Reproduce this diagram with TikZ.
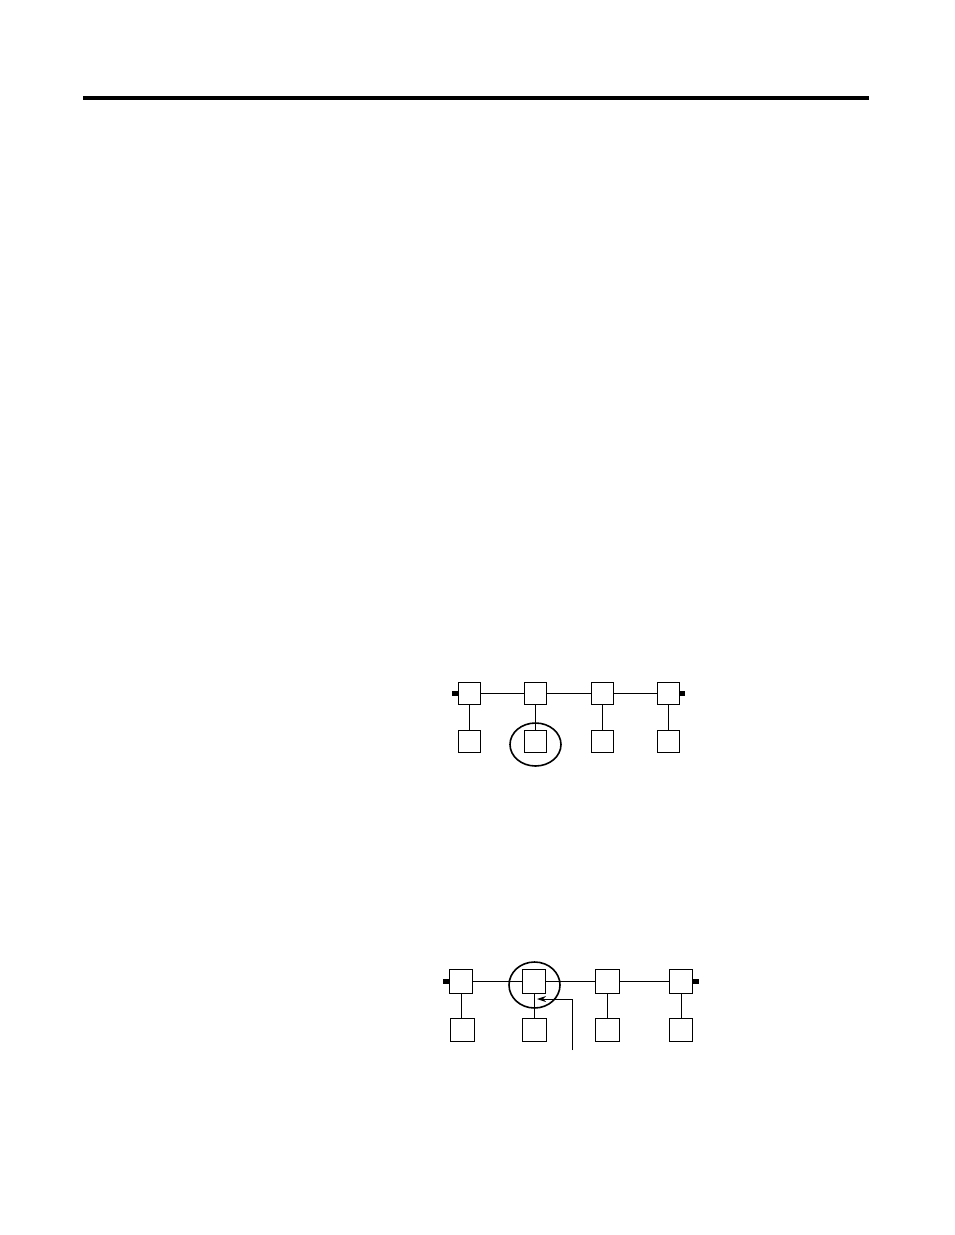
\documentclass[tikz,border=0pt]{standalone}
\usetikzlibrary{arrows.meta}
\begin{document}
\begin{tikzpicture}[x=1pt,y=-1pt,
  dev/.style={draw,line width=0.9pt,minimum size=22pt,inner sep=0pt,fill=white},
  devb/.style={dev,minimum size=23.5pt},
  term/.style={fill=black,minimum width=6pt,minimum height=5pt,inner sep=0pt},
  wire/.style={line width=0.9pt},
  ring/.style={draw,line width=1.8pt,ellipse}]
\useasboundingbox (0,0) rectangle (954,1235);
% top rule
\fill (83,96) rectangle (869,100);
% diagram 1
\coordinate (ta) at (455,693.5);
\coordinate (tb) at (682,693.5);
\draw[wire] (ta) -- (tb);
\node[term] (t1l) at (ta) {};
\node[term] (t1r) at (tb) {};
\foreach \i/\x in {1/469.5,2/535.5,3/602,4/668}{
  \node[dev] (a\i) at (\x,693) {};
  \node[dev] (b\i) at (\x,741.5) {};
  \draw[wire] (a\i) -- (b\i);
}
\draw[line width=1.6pt] (535.5,744.5) ellipse [x radius=25.5, y radius=21.5];
% diagram 2
\coordinate (tc) at (446,981.5);
\coordinate (td) at (695.5,981.5);
\draw[wire] (tc) -- (td);
\node[term] (t2l) at (tc) {};
\node[term] (t2r) at (td) {};
\foreach \i/\x/\y in {1/461/462.5,2/534/534.5,3/607.5/607.5,4/681/681}{
  \node[devb] (c\i) at (\x,981.5) {};
  \node[devb] (d\i) at (\y,1030) {};
  \draw[wire] (c\i.south) -- (c\i.south |- d\i.north);
}
\draw[line width=1.6pt] (534.5,985) ellipse [x radius=25.5, y radius=23];
\coordinate (p0) at (572,1050);
\coordinate (p1) at (572,999);
\coordinate (p2) at (537,999);
\draw[wire,-{Stealth[length=9pt,width=6pt,inset=3pt]}] (p0) -- (p1) -- (p2);
\end{tikzpicture}
\end{document}
